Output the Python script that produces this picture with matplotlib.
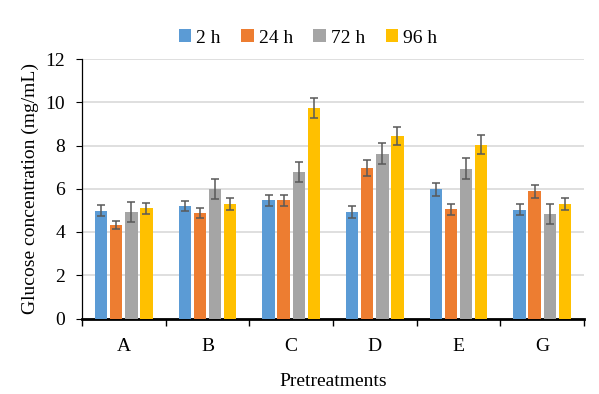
import matplotlib.pyplot as plt
import numpy as np

plt.rcParams['font.family'] = ['Liberation Serif', 'DejaVu Serif']

groups = ["A", "B", "C", "D", "E", "G"]
series = ["2 h", "24 h", "72 h", "96 h"]
colors = ["#5B9BD5", "#ED7D31", "#A5A5A5", "#FFC000"]

h2 = [4.99, 5.20, 5.47, 4.93, 5.98, 5.04]
h24 = [4.32, 4.88, 5.47, 6.96, 5.05, 5.88]
h72 = [4.93, 5.98, 6.77, 7.63, 6.92, 4.83]
h96 = [5.10, 5.30, 9.73, 8.43, 8.04, 5.30]

err2 = [0.25, 0.25, 0.26, 0.27, 0.30, 0.26]
err24 = [0.20, 0.25, 0.26, 0.36, 0.26, 0.30]
err72 = [0.45, 0.47, 0.46, 0.48, 0.48, 0.48]
err96 = [0.25, 0.29, 0.48, 0.42, 0.44, 0.29]

values = [h2, h24, h72, h96]
errors = [err2, err24, err72, err96]

fig = plt.figure(figsize=(5.99, 3.94), dpi=100)
ax = fig.add_axes([82 / 599, 1 - 318.5 / 394, 502 / 599, 259.5 / 394])

x = np.arange(len(groups))
step = 0.18
width = 0.148
for i, (name, vals, errs, c) in enumerate(zip(series, values, errors, colors)):
    ax.bar(x + (i - 1.5) * step, vals, width, color=c, label=name, zorder=3)
    ax.errorbar(x + (i - 1.5) * step, vals, yerr=errs, fmt='none',
                ecolor='#595959', elinewidth=1.1, capsize=3, capthick=1.1, zorder=4)

ax.set_xlim(-0.5, len(groups) - 0.5)
ax.set_ylim(0, 12)
ax.set_yticks(range(0, 13, 2))
ax.set_xticks(x)
ax.set_xticklabels(groups, fontsize=14)
ax.set_xticks(np.arange(-0.5, len(groups)), minor=True)
ax.tick_params(axis='x', which='major', length=0, pad=14)
ax.tick_params(axis='x', which='minor', length=5, width=1, color='black')
ax.tick_params(axis='y', length=4, width=0.8, labelsize=14, pad=8)

ax.grid(axis='y', color='#D9D9D9', linewidth=1.2, zorder=0)
for s in ['top', 'right']:
    ax.spines[s].set_visible(False)
ax.spines['left'].set_linewidth(0.9)
ax.spines['bottom'].set_linewidth(2)

ax.set_ylabel("Glucose concentration (mg/mL)", fontsize=14, labelpad=5)
ax.set_xlabel("Pretreatments", fontsize=14, labelpad=13)

fig.legend(loc='center', bbox_to_anchor=(308 / 599, 1 - 38 / 394), ncol=4,
           frameon=False, fontsize=14, handlelength=0.65, handleheight=0.65,
           handletextpad=0.25, columnspacing=1.05)

fig.savefig("out.png", dpi=100)
